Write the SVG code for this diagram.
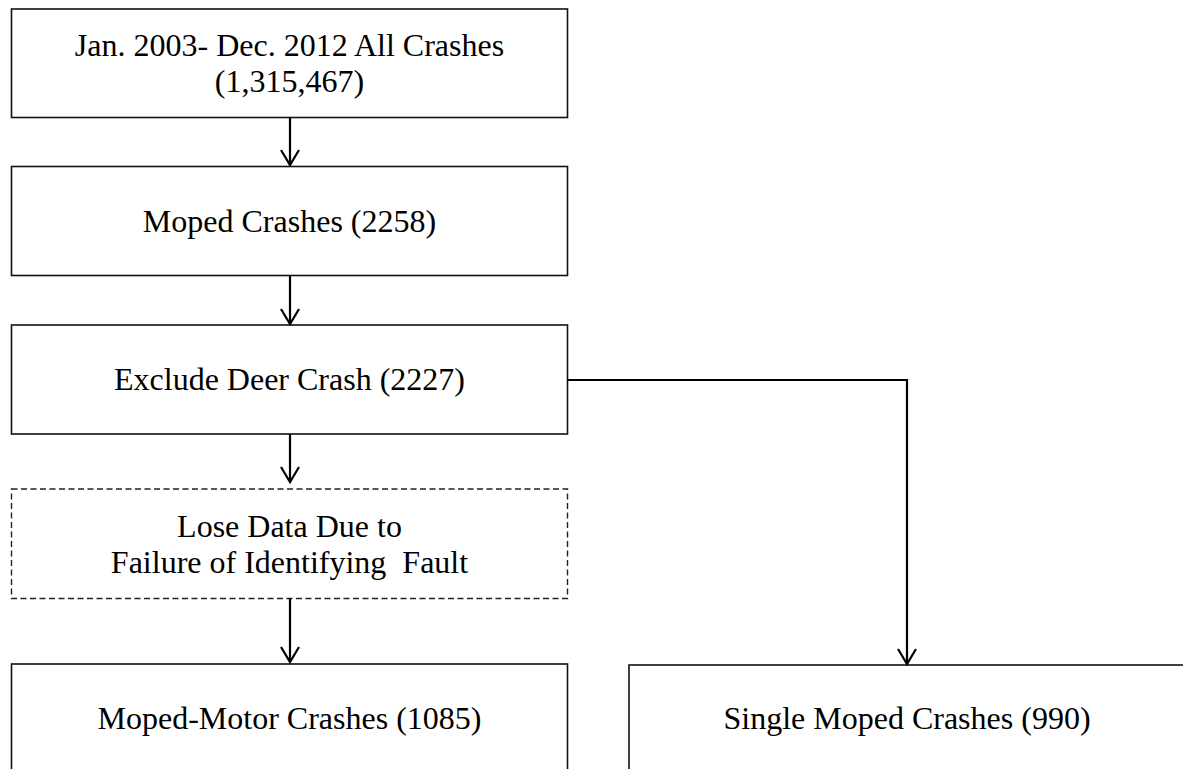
<svg xmlns="http://www.w3.org/2000/svg" width="1183" height="769" viewBox="0 0 1183 769">
  <style>
    .box { fill: #ffffff; stroke: #111111; stroke-width: 1.6; }
    .dash { fill: #ffffff; stroke: #222222; stroke-width: 1.4; stroke-dasharray: 6 3.5; }
    .lbl { font-family: "Liberation Serif", "Times New Roman", serif; font-size: 32px; fill: #000000; text-anchor: middle; white-space: pre; }
    .conn { fill: none; stroke: #000000; stroke-width: 2.2; }
  </style>
  <defs>
    <marker id="arr" markerUnits="userSpaceOnUse" markerWidth="20" markerHeight="22" viewBox="-16 -11 18 22" refX="0" refY="0" orient="auto" overflow="visible">
      <path d="M -15 -9 L 0 0 L -15 9" fill="none" stroke="#000000" stroke-width="2.2"/>
    </marker>
  </defs>
  <rect x="0" y="0" width="1183" height="769" fill="#ffffff"/>

  <g id="n1">
    <rect class="box" x="11.5" y="9" width="556" height="108.5"/>
    <text class="lbl" x="289.5" y="56">Jan. 2003- Dec. 2012 All Crashes</text>
    <text class="lbl" x="289.5" y="92">(1,315,467)</text>
  </g>
  <g id="n2">
    <rect class="box" x="11.5" y="166.5" width="556" height="109"/>
    <text class="lbl" x="289.5" y="232">Moped Crashes (2258)</text>
  </g>
  <g id="n3">
    <rect class="box" x="11.5" y="325" width="556" height="109"/>
    <text class="lbl" x="289.5" y="390">Exclude Deer Crash (2227)</text>
  </g>
  <g id="n4">
    <rect class="dash" x="11.5" y="489" width="556" height="109.5"/>
    <text class="lbl" x="289.5" y="537">Lose Data Due to</text>
    <text class="lbl" x="289.5" y="573">Failure of Identifying  Fault</text>
  </g>
  <g id="n5">
    <rect class="box" x="11.5" y="664" width="556" height="120"/>
    <text class="lbl" x="289.5" y="729">Moped-Motor Crashes (1085)</text>
  </g>
  <g id="n6">
    <rect class="box" x="629" y="665" width="600" height="120"/>
    <text class="lbl" x="907" y="729">Single Moped Crashes (990)</text>
  </g>

  <g id="connectors">
    <line class="conn" x1="290" y1="117.5" x2="290" y2="165" marker-end="url(#arr)"/>
    <line class="conn" x1="290" y1="275.5" x2="290" y2="324" marker-end="url(#arr)"/>
    <line class="conn" x1="290" y1="434" x2="290" y2="482" marker-end="url(#arr)"/>
    <line class="conn" x1="290" y1="598.5" x2="290" y2="662" marker-end="url(#arr)"/>
    <path class="conn" d="M 567.5 380 L 907 380 L 907 664" marker-end="url(#arr)"/>
  </g>
</svg>
